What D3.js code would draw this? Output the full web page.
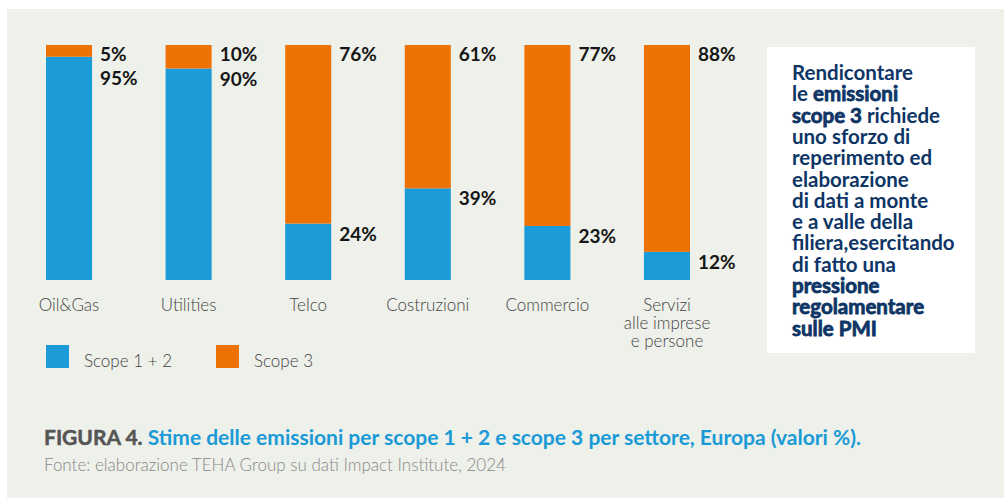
<!DOCTYPE html>
<html>
<head>
<meta charset="utf-8">
<script src="https://cdn.jsdelivr.net/npm/d3@7"></script>
<style>
  html, body { margin: 0; padding: 0; background: #fff; }
  svg { display: block; font-family: Lato, "Noto Sans", sans-serif; }
</style>
</head>
<body>
<svg id="chart"></svg>
<script>
// data
const categories = ['Oil&Gas', 'Utilities', 'Telco', 'Costruzioni', 'Commercio', 'Servizi alle imprese e persone'];
const categoryLines = [['Oil&Gas'], ['Utilities'], ['Telco'], ['Costruzioni'], ['Commercio'], ['Servizi', 'alle imprese', 'e persone']];
const scope12 = [95, 90, 24, 39, 23, 12];
const scope3 = [5, 10, 76, 61, 77, 88];
const seriesNames = ['Scope 1 + 2', 'Scope 3'];
const colors = ['#1b9bd7', '#ee7203'];

const titleBold = 'FIGURA 4.';
const titleText = 'Stime delle emissioni per scope 1 + 2 e scope 3 per settore, Europa (valori %).';
const sourceText = 'Fonte: elaborazione TEHA Group su dati Impact Institute, 2024';

// box text, each line is a list of [text, bold]
const boxLines = [
  [['Rendicontare', false]],
  [['le ', false], ['emissioni', true]],
  [['scope 3', true], [' richiede', false]],
  [['uno sforzo di', false]],
  [['reperimento ed', false]],
  [['elaborazione', false]],
  [['di dati a monte', false]],
  [['e a valle della', false]],
  [['filiera,esercitando', false]],
  [['di fatto una', false]],
  [['pressione', true]],
  [['regolamentare', true]],
  [['sulle PMI', true]]
];

const width = 1004;
const height = 498;

const svg = d3.select('#chart')
  .attr('width', width)
  .attr('height', height);

// panel background
svg.append('rect')
  .attr('x', 7)
  .attr('y', 9)
  .attr('width', width - 7)
  .attr('height', height - 9)
  .attr('fill', '#eef0ea');

const x = d3.scaleBand()
  .domain(categories)
  .range([46, 690])
  .paddingInner(0.615)
  .paddingOuter(0);

const y = d3.scaleLinear()
  .domain([0, 100])
  .range([280, 45]);

const rows = categories.map((c, i) => ({ cat: c, lines: categoryLines[i], s12: scope12[i], s3: scope3[i] }));

const bars = svg.selectAll('g.bar')
  .data(rows)
  .enter()
  .append('g')
  .attr('class', 'bar');

// scope 1+2 at bottom
bars.append('rect')
  .attr('x', d => x(d.cat))
  .attr('width', x.bandwidth())
  .attr('y', d => y(d.s12))
  .attr('height', d => y(0) - y(d.s12))
  .attr('fill', colors[0]);

// scope 3 stacked on top
bars.append('rect')
  .attr('x', d => x(d.cat))
  .attr('width', x.bandwidth())
  .attr('y', d => y(d.s12 + d.s3))
  .attr('height', d => y(d.s12) - y(d.s12 + d.s3))
  .attr('fill', colors[1]);

// value labels
const topBase = d => y(d.s12 + d.s3) + 16;
bars.append('text')
  .attr('x', d => x(d.cat) + x.bandwidth() + 8)
  .attr('y', topBase)
  .attr('font-size', 19)
  .attr('font-weight', 700)
  .attr('fill', '#161616')
  .text(d => d.s3 + '%');

bars.append('text')
  .attr('x', d => x(d.cat) + x.bandwidth() + 8)
  .attr('y', d => Math.max(y(d.s12) + 17, topBase(d) + 24))
  .attr('font-size', 19)
  .attr('font-weight', 700)
  .attr('fill', '#161616')
  .text(d => d.s12 + '%');

// category labels
const catText = bars.append('text')
  .attr('text-anchor', 'middle')
  .attr('font-size', 17)
  .attr('font-weight', 300)
  .attr('fill', '#444');
catText.selectAll('tspan')
  .data(d => d.lines.map(l => ({ l, cx: x(d.cat) + x.bandwidth() / 2 })))
  .enter()
  .append('tspan')
  .attr('x', d => d.cx)
  .attr('y', (d, i) => 311 + i * 18)
  .text(d => d.l);

// legend
const legend = svg.selectAll('g.legend')
  .data(seriesNames)
  .enter()
  .append('g')
  .attr('class', 'legend')
  .attr('transform', (d, i) => `translate(${46 + i * 170}, 345)`);
legend.append('rect')
  .attr('width', 23)
  .attr('height', 23)
  .attr('fill', (d, i) => colors[i]);
legend.append('text')
  .attr('x', 38)
  .attr('y', 22)
  .attr('font-size', 17)
  .attr('font-weight', 300)
  .attr('fill', '#444')
  .text(d => d);

// side box
svg.append('rect')
  .attr('x', 767)
  .attr('y', 47)
  .attr('width', 208)
  .attr('height', 306)
  .attr('fill', '#fff');

const boxText = svg.append('text')
  .attr('font-size', 20.5)
  .attr('fill', '#0d3565');
boxLines.forEach((line, i) => {
  line.forEach((part, j) => {
    const t = boxText.append('tspan')
      .attr('font-weight', 700)
      .attr('stroke', part[1] ? '#0d3565' : 'none')
      .attr('stroke-width', part[1] ? 0.8 : 0)
      .text(part[0]);
    if (j === 0) {
      t.attr('x', 792).attr('y', 80 + i * 21.3);
    }
  });
});

// title and source
const title = svg.append('text')
  .attr('x', 44)
  .attr('y', 445)
  .attr('font-size', 21)
  .attr('font-weight', 700);
title.append('tspan').attr('fill', '#555').attr('stroke', '#555').attr('stroke-width', 0.5).text(titleBold + ' ');
title.append('tspan').attr('fill', '#1a9ad6').text(titleText);

svg.append('text')
  .attr('x', 44)
  .attr('y', 471)
  .attr('font-size', 17)
  .attr('font-weight', 300)
  .attr('fill', '#888')
  .text(sourceText);
</script>
</body>
</html>
